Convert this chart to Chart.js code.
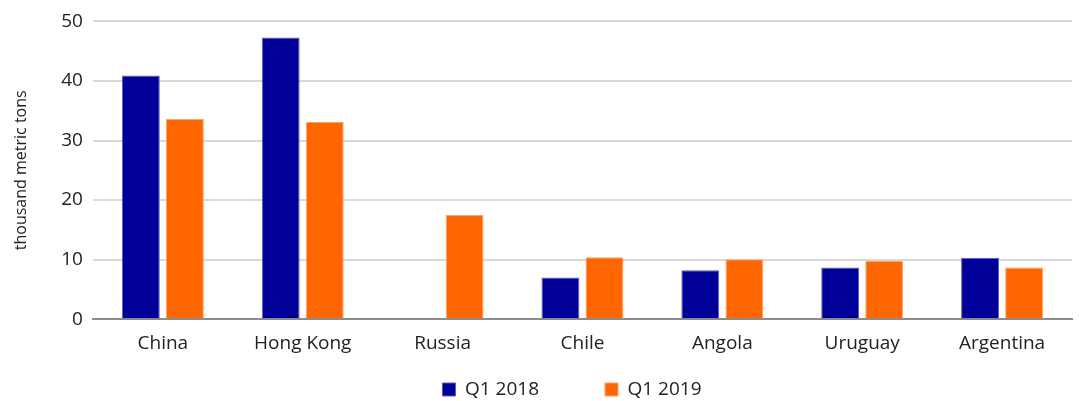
<!DOCTYPE html>
<html>
<head>
<meta charset="utf-8">
<script src="https://cdn.jsdelivr.net/npm/chart.js@4"></script>
<style>
  html, body { margin: 0; padding: 0; background: #fff; }
  #wrap { width: 1080px; height: 401px; }
</style>
</head>
<body>
<div id="wrap"><canvas id="chart"></canvas></div>
<script>
const countries = ["China", "Hong Kong", "Russia", "Chile", "Angola", "Uruguay", "Argentina"];
const q1_2018 = [40.9, 47.3, 0.1, 7.0, 8.2, 8.7, 10.3];
const q1_2019 = [33.6, 33.1, 17.5, 10.4, 10.05, 9.8, 8.7];
const yTicks = [0, 10, 20, 30, 40, 50];

Chart.defaults.font.family = "'Open Sans', 'Noto Sans', sans-serif";
Chart.defaults.color = "#222";

// wide gap between legend items but a compact legend row, sitting right of centre
const legendShift = {
    id: "legendShift",
    afterLayout(chart) {
        const lg = chart.legend;
        lg.left += 32;
        lg.right += 32;
        lg.top -= 54; // bottom stays, so the clip box still holds the items
    }
};

new Chart(document.getElementById("chart"), {
    type: "bar",
    data: {
        labels: countries,
        datasets: [
            { label: "Q1 2018", data: q1_2018, backgroundColor: "#000099", borderColor: "#5b5bc0", borderWidth: 1 },
            { label: "Q1 2019", data: q1_2019, backgroundColor: "#ff6600", borderColor: "#ffa366", borderWidth: 1 }
        ]
    },
    options: {
        responsive: true,
        maintainAspectRatio: false,
        animation: false,
        categoryPercentage: 0.63,
        barPercentage: 0.86,
        layout: { padding: { left: 8, right: 8, top: -2, bottom: -11 } },
        plugins: {
            legend: {
                position: "bottom",
                maxHeight: 44,
                labels: { boxWidth: 13, boxHeight: 13, padding: 66, font: { size: 19 }, color: "#222" }
            },
            tooltip: { enabled: false }
        },
        scales: {
            x: {
                grid: { display: false, drawTicks: false },
                border: { color: "#8c8c8c", width: 2 },
                ticks: { font: { size: 19 }, padding: 13, color: "#222" }
            },
            y: {
                min: 0,
                max: 50,
                afterBuildTicks: axis => { axis.ticks = yTicks.map(v => ({ value: v })); },
                grid: { color: "#d9d9d9", lineWidth: 2, drawTicks: false },
                border: { display: false },
                ticks: { font: { size: 19 }, padding: 10, color: "#222" },
                title: { display: true, text: "thousand metric tons", font: { size: 16 }, color: "#222", padding: { bottom: 20 } }
            }
        }
    },
    plugins: [legendShift]
});
</script>
</body>
</html>
